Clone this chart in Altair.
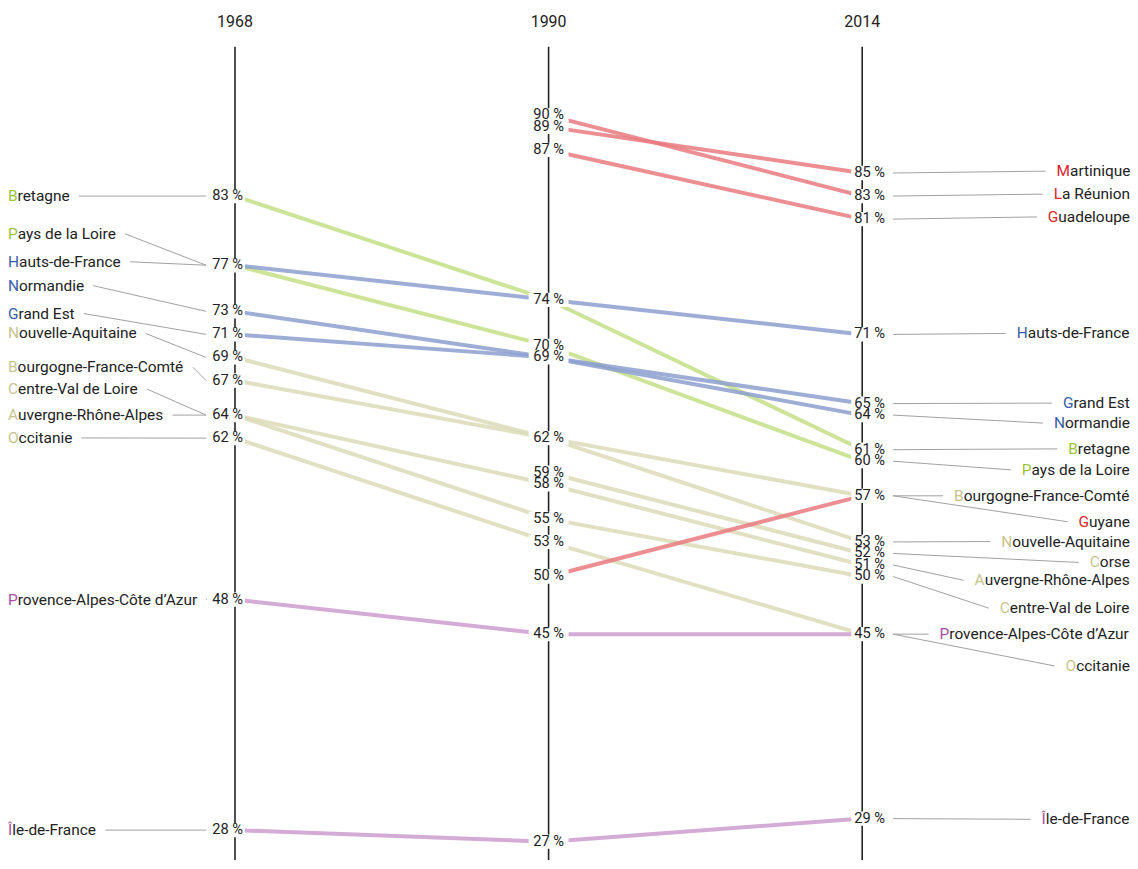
import altair as alt
import pandas as pd

# ---------------- data ----------------
years = ["1968", "1990", "2014"]
regions = ["Bretagne", "Pays de la Loire", "Hauts-de-France", "Normandie", "Grand Est",
           "Nouvelle-Aquitaine", "Bourgogne-France-Comté", "Centre-Val de Loire",
           "Auvergne-Rhône-Alpes", "Occitanie", "Corse", "Provence-Alpes-Côte d’Azur",
           "Île-de-France", "Martinique", "La Réunion", "Guadeloupe", "Guyane"]
groups = ["vert", "vert", "bleu", "bleu", "bleu", "beige", "beige", "beige", "beige",
          "beige", "beige", "violet", "violet", "rouge", "rouge", "rouge", "rouge"]
v1968 = [83, 77, 77, 73, 71, 69, 67, 64, 64, 62, None, 48, 28, None, None, None, None]
v1990 = [74, 70, 74, 69, 69, 62, 62, 55, 58, 53, 59, 45, 27, 89, 90, 87, 50]
v2014 = [61, 60, 71, 64, 65, 53, 57, 50, 51, 45, 52, 45, 29, 85, 83, 81, 57]

# label positions of region names (in % units, for the y scale)
left_names = ["Bretagne", "Pays de la Loire", "Hauts-de-France", "Normandie", "Grand Est",
              "Nouvelle-Aquitaine", "Bourgogne-France-Comté", "Centre-Val de Loire",
              "Auvergne-Rhône-Alpes", "Occitanie", "Provence-Alpes-Côte d’Azur", "Île-de-France"]
left_pos = [83, 79.72, 77.3, 75.23, 72.81, 71.08, 68.15, 66.25, 64.0, 62.02, 48, 28]
right_names = ["Martinique", "La Réunion", "Guadeloupe", "Hauts-de-France", "Grand Est",
               "Normandie", "Bretagne", "Pays de la Loire", "Bourgogne-France-Comté", "Guyane",
               "Nouvelle-Aquitaine", "Corse", "Auvergne-Rhône-Alpes", "Centre-Val de Loire",
               "Provence-Alpes-Côte d’Azur", "Occitanie", "Île-de-France"]
right_pos = [85.16, 83.17, 81.19, 71.08, 65.04, 63.31, 61.07, 59.25, 57.0, 54.75,
             53.03, 51.22, 49.67, 47.25, 45.0, 42.24, 28.94]

line_colors = {"vert": "#c4de86", "bleu": "#8c9fcf", "beige": "#dcdbb9",
               "rouge": "#ea7a80", "violet": "#cd9ccd"}
letter_colors = {"vert": "#9bc43a", "bleu": "#3a5cab", "beige": "#c8c48e",
                 "rouge": "#e0232b", "violet": "#a84e9f"}

FONT = "Roboto"
NAME_SIZE = 15.5
PCT_SIZE = 14.7
TEXT_DARK = "#222222"

# ---------------- layout helpers ----------------
W, H = 1127, 852
STEP = 315.0     # px between year axes
AX0 = 236.0      # page x of first axis
K = 11.58        # px per percentage point
Y83 = 195.0      # page y of 83 %


def u(px):
    """page x pixel -> x scale unit"""
    return (px - AX0) / STEP


def du(px):
    return px / STEP


XMIN, XMAX = u(8), u(8 + W)
VMAX = 83 + (Y83 - 8) / K
VMIN = 83 - (8 + H - Y83) / K

# approximate Roboto advance widths (1/1000 em)
AW = {' ': 248, "'": 175, '’': 196, '-': 276, '%': 733,
      'A': 653, 'B': 622, 'C': 652, 'D': 656, 'E': 568, 'F': 553, 'G': 681, 'H': 713,
      'I': 272, 'Î': 272, 'L': 538, 'M': 873, 'N': 713, 'O': 688, 'P': 631, 'R': 616,
      'V': 637, 'a': 544, 'b': 561, 'c': 523, 'd': 564, 'e': 530, 'é': 530, 'f': 347,
      'g': 561, 'h': 551, 'i': 243, 'l': 243, 'm': 876, 'n': 552, 'o': 570, 'ô': 570,
      'p': 561, 'q': 561, 'r': 338, 's': 516, 't': 327, 'u': 551, 'v': 484, 'y': 473,
      'z': 496}


def tw(s, size):
    return sum(AW.get(c, 550) for c in s) / 1000 * size


xs = alt.Scale(domain=[XMIN, XMAX], nice=False, zero=False)
ys = alt.Scale(domain=[VMIN, VMAX], nice=False, zero=False)


def X(f):
    return alt.X(f, type="quantitative", scale=xs, axis=None)


def X2(f):
    return alt.X2(f)


def Y(f):
    return alt.Y(f, type="quantitative", scale=ys, axis=None)


# ---------------- tables ----------------
grp = dict(zip(regions, groups))
rows = []
for r, g, a, b, c in zip(regions, groups, v1968, v1990, v2014):
    for i, v in enumerate([a, b, c]):
        if v is not None:
            rows.append({"region": r, "idx": i, "year": years[i], "value": v,
                         "col": line_colors[g], "label": f"{v} %"})
pts = pd.DataFrame(rows)

labels = pts.drop_duplicates(subset=["idx", "value"]).copy()
# white label backgrounds (in units)
bg_off = {0: (u(208) - u(AX0), u(246) - u(AX0)),
          1: (u(531) - u(551), u(571) - u(551)),
          2: (u(855) - u(866), u(893) - u(866))}
labels["bx"] = [i + bg_off[i][0] for i in labels["idx"]]
labels["bx2"] = [i + bg_off[i][1] for i in labels["idx"]]
labels["by"] = labels["value"] + 0.62
labels["by2"] = labels["value"] - 0.62
labels["tx0"] = labels["idx"] + du(8)
labels["tx2"] = labels["idx"] - du(8)

axes = pd.DataFrame({"idx": [0, 1, 2], "year": years, "top": [95.95] * 3,
                     "bottom": [15] * 3, "ylab": [98.11] * 3})

val = {0: dict(zip(regions, v1968)), 2: dict(zip(regions, v2014))}

left = pd.DataFrame({"name": left_names, "pos": left_pos})
left["first"] = [n[0] for n in left_names]
left["rest"] = [n[1:] for n in left_names]
left["x_first"] = XMIN
left["x_rest"] = [XMIN + du(tw(n[0], NAME_SIZE)) for n in left_names]
left["lcol"] = [letter_colors[grp[n]] for n in left_names]
left["lx"] = [u(8 + tw(n, NAME_SIZE) + 9) for n in left_names]
left["lx2"] = u(207)
left["value"] = [val[0][n] for n in left_names]

right = pd.DataFrame({"name": right_names, "pos": right_pos})
right["first"] = [n[0] for n in right_names]
right["rest"] = [n[1:] for n in right_names]
right["x_first"] = [XMAX - du(tw(n, NAME_SIZE)) for n in right_names]
right["x_rest"] = [XMAX - du(tw(n, NAME_SIZE)) + du(tw(n[0], NAME_SIZE)) for n in right_names]
right["lcol"] = [letter_colors[grp[n]] for n in right_names]
right["lx"] = u(897)
right["lx2"] = [u(8 + W - tw(n, NAME_SIZE) - 11) for n in right_names]
right["value"] = [val[2][n] for n in right_names]

# ---------------- layers ----------------
axis_rules = alt.Chart(axes).mark_rule(color="#222222", strokeWidth=1.6).encode(
    x=X("idx"), y=Y("top"), y2=alt.Y2("bottom"))
year_text = alt.Chart(axes).mark_text(font=FONT, fontSize=NAME_SIZE + 0.5, color=TEXT_DARK,
                                      baseline="middle").encode(
    x=X("idx"), y=Y("ylab"), text="year:N")

left_leaders = alt.Chart(left).mark_rule(color="#a0a0a0", strokeWidth=1).encode(
    x=X("lx"), x2=X2("lx2"), y=Y("pos"), y2=alt.Y2("value"))
right_leaders = alt.Chart(right).mark_rule(color="#a0a0a0", strokeWidth=1).encode(
    x=X("lx"), x2=X2("lx2"), y=Y("value"), y2=alt.Y2("pos"))

lines = alt.Chart(pts).mark_line(strokeWidth=4, opacity=0.85, strokeCap="butt").encode(
    x=X("idx"), y=Y("value"), detail="region:N",
    color=alt.Color("col:N", scale=None), order="idx:Q")

bgs = alt.Chart(labels).mark_rect(color="white").encode(
    x=X("bx"), x2=X2("bx2"), y=Y("by"), y2=alt.Y2("by2"))

pct0 = alt.Chart(labels).transform_filter("datum.idx == 0").mark_text(
    font=FONT, fontSize=PCT_SIZE, color=TEXT_DARK, align="right", baseline="middle").encode(
    x=X("tx0"), y=Y("value"), text="label:N")
pct1 = alt.Chart(labels).transform_filter("datum.idx == 1").mark_text(
    font=FONT, fontSize=PCT_SIZE, color=TEXT_DARK, align="center", baseline="middle").encode(
    x=X("idx"), y=Y("value"), text="label:N")
pct2 = alt.Chart(labels).transform_filter("datum.idx == 2").mark_text(
    font=FONT, fontSize=PCT_SIZE, color=TEXT_DARK, align="left", baseline="middle").encode(
    x=X("tx2"), y=Y("value"), text="label:N")


def name_layers(df):
    first = alt.Chart(df).mark_text(font=FONT, fontSize=NAME_SIZE, align="left",
                                    baseline="middle").encode(
        x=X("x_first"), y=Y("pos"), text="first:N", color=alt.Color("lcol:N", scale=None))
    rest = alt.Chart(df).mark_text(font=FONT, fontSize=NAME_SIZE, color=TEXT_DARK,
                                   align="left", baseline="middle").encode(
        x=X("x_rest"), y=Y("pos"), text="rest:N")
    return [first, rest]


chart = alt.layer(
    axis_rules, year_text, left_leaders, right_leaders, lines, bgs,
    pct0, pct1, pct2, *name_layers(left), *name_layers(right)
).properties(
    width=W, height=H, padding=0,
    autosize=alt.AutoSizeParams(type="none")
).configure_view(strokeWidth=0)

chart.save("out.html", embed_options={"renderer": "svg", "actions": False})
